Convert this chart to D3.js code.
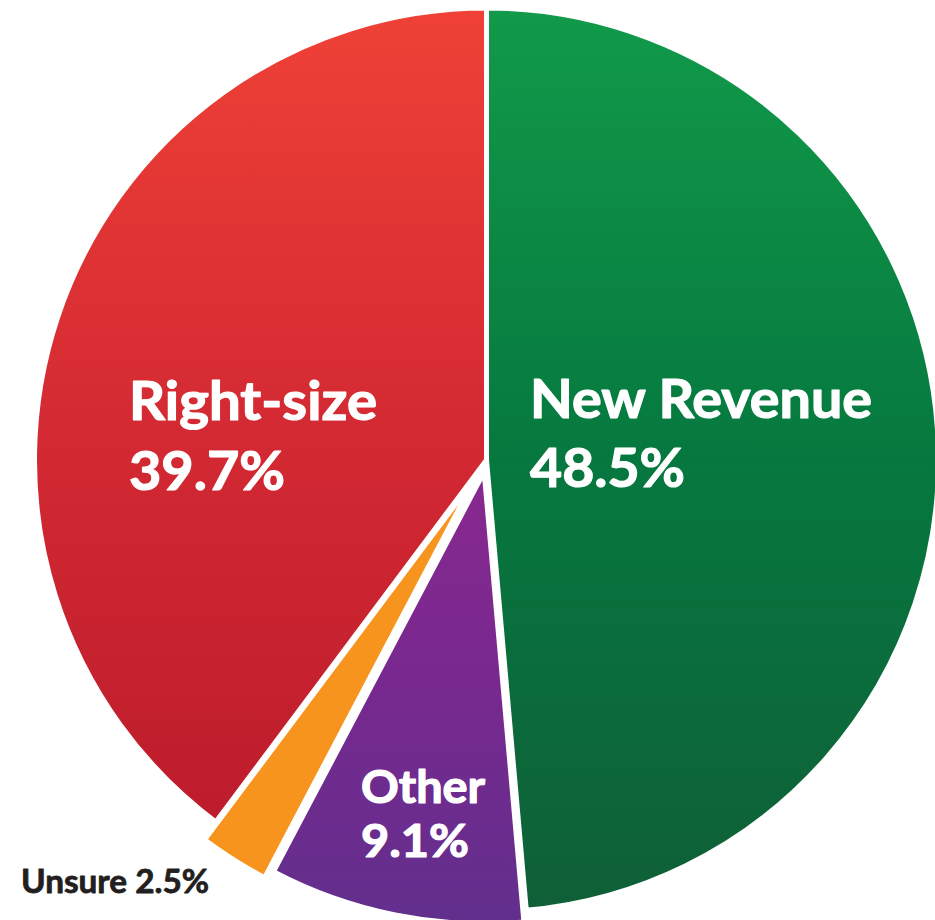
<!DOCTYPE html>
<html>
<head>
<meta charset="utf-8">
<script src="https://cdn.jsdelivr.net/npm/d3@7"></script>
<style>
  html, body { margin: 0; padding: 0; background: #ffffff; }
  svg { display: block; }
</style>
</head>
<body>
<svg id="chart" width="935" height="920"></svg>
<script>
// ---- data ----
const categories = ["New Revenue", "Other", "Unsure", "Right-size"];
const values = [48.5, 9.1, 2.5, 39.7];
const valueLabels = ["48.5%", "9.1%", "2.5%", "39.7%"];

// ---- styling / layout ----
const gradStops = [
  ["#119a4a", "#06783f", "#0f5f37"],
  ["#88288f", "#76298f", "#622f8d"],
  ["#f7941d", "#f7941d", "#f7941d"],
  ["#ef4136", "#d42a33", "#bd1c2c"]
];
const explode = [0, 12, 21, 0];
const cx = 486.5, cy = 460, R = 452;

const svg = d3.select("#chart");
const defs = svg.append("defs");
gradStops.forEach((s, i) => {
  const g = defs.append("linearGradient")
    .attr("id", "grad" + i)
    .attr("x1", 0).attr("y1", 0).attr("x2", 0).attr("y2", 1);
  g.append("stop").attr("offset", "0%").attr("stop-color", s[0]);
  g.append("stop").attr("offset", "50%").attr("stop-color", s[1]);
  g.append("stop").attr("offset", "100%").attr("stop-color", s[2]);
});

const pie = d3.pie().sort(null).value(d => d)(values);
const arc = d3.arc().innerRadius(0).outerRadius(R);

const root = svg.append("g").attr("transform", `translate(${cx},${cy})`);
root.selectAll("path.slice")
  .data(pie)
  .join("path")
  .attr("class", "slice")
  .attr("d", arc)
  .attr("transform", (d, i) => {
    const mid = (d.startAngle + d.endAngle) / 2;
    const o = explode[i];
    return `translate(${o * Math.sin(mid)},${-o * Math.cos(mid)})`;
  })
  .attr("fill", (d, i) => `url(#grad${i})`)
  .attr("stroke", "#ffffff")
  .attr("stroke-width", 5)
  .attr("stroke-linejoin", "miter");

// ---- labels ----
const font = "Lato, 'Open Sans', sans-serif";
const labelLayout = [
  { x: 530, y1: 418, y2: 487, size: 54, w1: 342, w2: 155, color: "#ffffff", two: true },
  { x: 361, y1: 803, y2: 857, size: 46, w1: 124, w2: 108, color: "#ffffff", two: true },
  { x: 21, y1: 893, size: 33, w1: 188, color: "#231f20", two: false },
  { x: 129, y1: 420, y2: 490, size: 54, w1: 248, w2: 156, color: "#ffffff", two: true }
];

function addText(x, y, size, color, str, w) {
  svg.append("text")
    .attr("x", x).attr("y", y)
    .attr("font-family", font).attr("font-weight", 700)
    .attr("font-size", size).attr("fill", color)
    .attr("stroke", color).attr("stroke-width", size > 40 ? 1.2 : 0.8)
    .attr("stroke-linejoin", "round")
    .attr("textLength", w).attr("lengthAdjust", "spacingAndGlyphs")
    .text(str);
}

categories.forEach((c, i) => {
  const L = labelLayout[i];
  if (L.two) {
    addText(L.x, L.y1, L.size, L.color, c, L.w1);
    addText(L.x, L.y2, L.size, L.color, valueLabels[i], L.w2);
  } else {
    addText(L.x, L.y1, L.size, L.color, c + " " + valueLabels[i], L.w1);
  }
});
</script>
</body>
</html>
